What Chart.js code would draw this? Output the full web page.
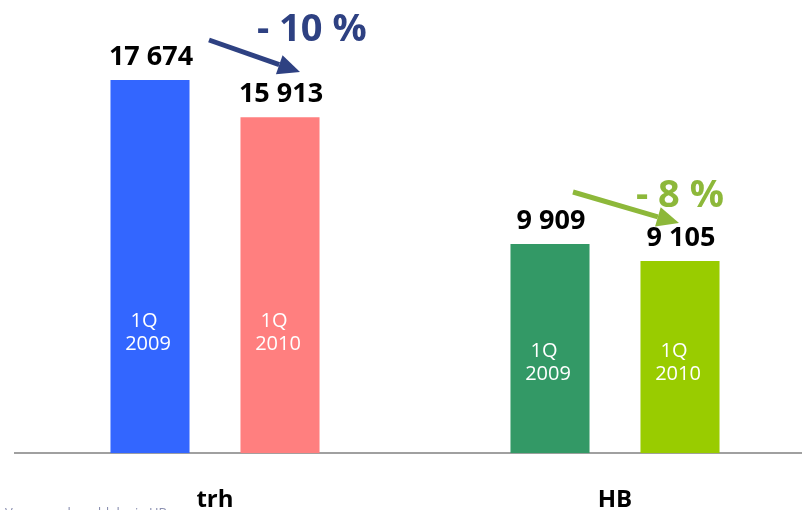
<!DOCTYPE html>
<html>
<head>
<meta charset="utf-8">
<script src="https://cdn.jsdelivr.net/npm/chart.js@4.4.1/dist/chart.umd.min.js"></script>
<style>
  html, body { margin: 0; padding: 0; background: #fff; overflow: hidden; }
  #wrap { position: relative; width: 815px; height: 556px; }
  #poznamka { position: absolute; left: 5px; top: 503px; font: 13px "Open Sans", sans-serif; color: #8a8fb0; white-space: nowrap; }
</style>
</head>
<body>
<div id="wrap">
  <canvas id="graf" width="815" height="556"></canvas>
  <div id="poznamka">Vypracovalo: oddelenie HB</div>
</div>
<script>
// kategorie a hodnoty
const kategorie = ['trh', 'HB'];
const obdobia = ['1Q 2009', '1Q 2010'];
const hodnoty2009 = [17674, 9909];
const hodnoty2010 = [15913, 9105];
const zmeny = ['- 10 %', '- 8 %'];

// farby stlpcov po kategoriach
const farby2009 = ['#3366FF', '#339966'];
const farby2010 = ['#FF7F7F', '#99CC00'];
const farbyZmien = ['#2E4182', '#8DB83A'];

// formatovanie cisla s medzerou (17 674)
function formatCislo(v) {
    return v.toString().replace(/\B(?=(\d{3})+(?!\d))/g, ' ');
}

// pluggin na popisky, sipky a percenta
const popiskyPlugin = {
    id: 'popisky',
    afterDatasetsDraw(chart) {
        const ctx = chart.ctx;
        const dole = chart.chartArea.bottom;
        ctx.save();

        // hodnoty nad stlpcami + text vo vnutri
        chart.data.datasets.forEach((ds, i) => {
            const meta = chart.getDatasetMeta(i);
            meta.data.forEach((bar, j) => {
                ctx.fillStyle = '#000';
                ctx.font = 'bold 27px "Open Sans"';
                ctx.textAlign = 'center';
                ctx.textBaseline = 'alphabetic';
                ctx.fillText(formatCislo(ds.data[j]), bar.x + 1, bar.y - 15);

                // 1Q / rok vo vnutri stlpca
                const riadky = obdobia[i].split(' ');
                const posun = j === 0 ? 132 : 102;
                ctx.fillStyle = '#fff';
                ctx.font = '20px "Open Sans"';
                ctx.textBaseline = 'middle';
                ctx.fillText(riadky[0], bar.x - 6, dole - posun);
                ctx.fillText(riadky[1], bar.x - 2, dole - posun + 23);
            });
        });

        // sipky medzi rokmi
        const sipky = [
            { x1: 209, y1: 40, x2: 300, y2: 72, tx: 257, ty: 30 },
            { x1: 573, y1: 192, x2: 679, y2: 223, tx: 636, ty: 196 }
        ];
        sipky.forEach((s, k) => {
            const uhol = Math.atan2(s.y2 - s.y1, s.x2 - s.x1);
            const dlzkaHrotu = 22;
            const bx = s.x2 - dlzkaHrotu * Math.cos(uhol);
            const by = s.y2 - dlzkaHrotu * Math.sin(uhol);
            ctx.strokeStyle = farbyZmien[k];
            ctx.fillStyle = farbyZmien[k];
            ctx.lineWidth = 5;
            ctx.beginPath();
            ctx.moveTo(s.x1, s.y1);
            ctx.lineTo(bx, by);
            ctx.stroke();
            ctx.beginPath();
            ctx.moveTo(s.x2, s.y2);
            ctx.lineTo(bx + 10 * Math.sin(uhol), by - 10 * Math.cos(uhol));
            ctx.lineTo(bx - 10 * Math.sin(uhol), by + 10 * Math.cos(uhol));
            ctx.closePath();
            ctx.fill();

            ctx.font = 'bold 38px "Open Sans"';
            ctx.textAlign = 'left';
            ctx.textBaseline = 'middle';
            ctx.fillText(zmeny[k], s.tx, s.ty);
        });

        ctx.restore();
    }
};

const ctx = document.getElementById('graf').getContext('2d');
const chart = new Chart(ctx, {
    type: 'bar',
    data: {
        labels: kategorie,
        datasets: [
            {
                label: obdobia[0],
                data: hodnoty2009,
                backgroundColor: farby2009,
                categoryPercentage: 0.65,
                barPercentage: 0.608
            },
            {
                label: obdobia[1],
                data: hodnoty2010,
                backgroundColor: farby2010,
                categoryPercentage: 0.65,
                barPercentage: 0.608
            }
        ]
    },
    options: {
        responsive: false,
        animation: false,
        layout: {
            padding: { left: 15, right: 0, top: 31, bottom: 8 }
        },
        scales: {
            x: {
                grid: { display: false, drawTicks: false },
                border: { display: true, color: '#A0A0A0', width: 2 },
                ticks: {
                    color: '#000',
                    padding: 33,
                    font: { family: 'Open Sans', size: 24, weight: 'bold' }
                }
            },
            y: {
                display: false,
                min: 0,
                max: 20000
            }
        },
        plugins: {
            legend: { display: false },
            tooltip: { enabled: false }
        }
    },
    plugins: [popiskyPlugin]
});
</script>
</body>
</html>
